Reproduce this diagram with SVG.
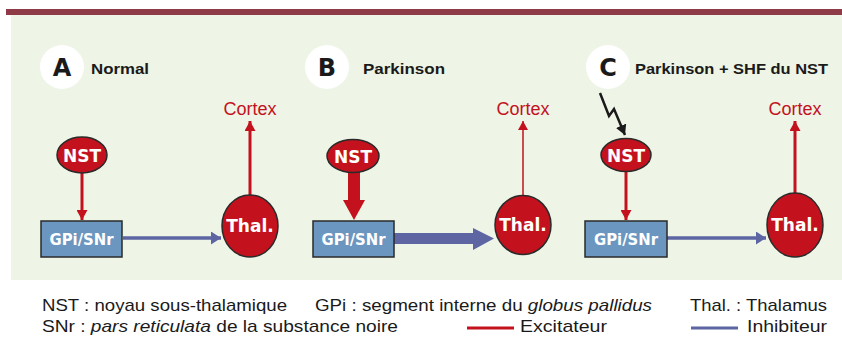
<svg xmlns="http://www.w3.org/2000/svg" width="842" height="344" viewBox="0 0 842 344">
<defs>
<style>
.bg{fill:#eef4e6}
.topbar{fill:#8e3a47}
.badge{fill:#ffffff}
.badgeTxt{font-family:"DejaVu Sans","Liberation Sans",sans-serif;font-weight:bold;font-size:24px;fill:#1a1a1a;text-anchor:middle}
.title{font-family:"Liberation Sans","DejaVu Sans",sans-serif;font-weight:bold;font-size:15.5px;fill:#1a1a1a}
.red{fill:#c3121d;stroke:#2a2a2a;stroke-width:1.5}
.box{fill:#6b96c0;stroke:#2a2a2a;stroke-width:1.5}
.nodeTxt{font-family:"DejaVu Sans","Liberation Sans",sans-serif;font-weight:bold;fill:#ffffff;text-anchor:middle}
.cortex{font-family:"Liberation Sans","DejaVu Sans",sans-serif;font-size:18px;fill:#c3121d;text-anchor:middle}
.exc{stroke:#c3121d;fill:none}
.inh{stroke:#5d65a2;fill:none}
.legend{font-family:"Liberation Sans","DejaVu Sans",sans-serif;font-size:17px;fill:#1a1a1a}
</style>
<marker id="hRed" markerUnits="userSpaceOnUse" markerWidth="11" markerHeight="11" refX="10" refY="5.5" orient="auto">
<path d="M0,0 L10,5.5 L0,11 z" fill="#c3121d"/>
</marker>
<marker id="hRedS" markerUnits="userSpaceOnUse" markerWidth="10" markerHeight="10" refX="9" refY="5" orient="auto">
<path d="M0,0 L9,5 L0,10 z" fill="#c3121d"/>
</marker>
<marker id="hBlue" markerUnits="userSpaceOnUse" markerWidth="11" markerHeight="13" refX="10" refY="6.5" orient="auto">
<path d="M0,0 L10,6.5 L0,13 z" fill="#5d65a2"/>
</marker>
<marker id="hBlack" markerUnits="userSpaceOnUse" markerWidth="11" markerHeight="11" refX="10" refY="5.5" orient="auto">
<path d="M0,0 L10,5.5 L0,11 z" fill="#1a1a1a"/>
</marker>
</defs>

<rect x="6" y="9" width="836" height="6" class="topbar"/>
<rect x="11" y="15" width="831" height="265" class="bg"/>

<!-- Panel titles -->
<g id="titleA">
<circle cx="62" cy="67" r="22" class="badge"/>
<text x="62" y="76" class="badgeTxt">A</text>
<text x="91" y="74" class="title" textLength="58" lengthAdjust="spacingAndGlyphs">Normal</text>
</g>
<g id="titleB">
<circle cx="327" cy="67" r="22" class="badge"/>
<text x="327" y="76" class="badgeTxt">B</text>
<text x="363" y="74" class="title" textLength="82" lengthAdjust="spacingAndGlyphs">Parkinson</text>
</g>
<g id="titleC">
<circle cx="608" cy="67" r="22" class="badge"/>
<text x="608" y="76" class="badgeTxt">C</text>
<text x="635" y="74" class="title" textLength="193" lengthAdjust="spacingAndGlyphs">Parkinson + SHF du NST</text>
</g>

<!-- Connectors -->
<g id="connectors">
<!-- A -->
<line x1="82" y1="173" x2="82" y2="220" class="exc" stroke-width="3" marker-end="url(#hRed)"/>
<line x1="123" y1="238" x2="221" y2="238" class="inh" stroke-width="3.5" marker-end="url(#hBlue)"/>
<line x1="250" y1="195" x2="250" y2="121" class="exc" stroke-width="3" marker-end="url(#hRed)"/>
<!-- B -->
<polygon points="348,172 360,172 360,200 365,200 354,220 343,200 348,200" fill="#c3121d"/>
<polygon points="394,233 473,233 473,228 494,238.5 473,250 473,244 394,244" fill="#5d65a2"/>
<line x1="523" y1="196" x2="523" y2="121" class="exc" stroke-width="1.5" marker-end="url(#hRedS)"/>
<!-- C -->
<polyline points="600,93 609,116 614,109 625,135" fill="none" stroke="#1a1a1a" stroke-width="2.5" marker-end="url(#hBlack)"/>
<line x1="626" y1="172" x2="626" y2="220" class="exc" stroke-width="3" marker-end="url(#hRed)"/>
<line x1="667" y1="238" x2="766" y2="238" class="inh" stroke-width="3.5" marker-end="url(#hBlue)"/>
<line x1="795" y1="193" x2="795" y2="121" class="exc" stroke-width="3" marker-end="url(#hRed)"/>
</g>

<!-- Panel A nodes -->
<g id="cortexA"><text x="250" y="115" class="cortex">Cortex</text></g>
<g id="nstA">
<ellipse cx="82" cy="155" rx="25" ry="18" class="red"/>
<text x="82" y="161.5" class="nodeTxt" font-size="17">NST</text>
</g>
<g id="gpiA">
<rect x="41" y="221" width="81" height="36" class="box"/>
<text x="81.5" y="245" class="nodeTxt" font-size="16" textLength="64" lengthAdjust="spacingAndGlyphs">GPi/SNr</text>
</g>
<g id="thalA">
<ellipse cx="250" cy="226" rx="28" ry="31" class="red"/>
<text x="250" y="232" class="nodeTxt" font-size="17">Thal.</text>
</g>

<!-- Panel B nodes -->
<g id="cortexB"><text x="523" y="115" class="cortex">Cortex</text></g>
<g id="nstB">
<ellipse cx="353" cy="156" rx="26" ry="16.5" class="red"/>
<text x="353" y="162.5" class="nodeTxt" font-size="17">NST</text>
</g>
<g id="gpiB">
<rect x="313" y="221" width="81" height="36" class="box"/>
<text x="353.5" y="245" class="nodeTxt" font-size="16" textLength="64" lengthAdjust="spacingAndGlyphs">GPi/SNr</text>
</g>
<g id="thalB">
<ellipse cx="523" cy="225" rx="28" ry="29.5" class="red"/>
<text x="523" y="231" class="nodeTxt" font-size="17">Thal.</text>
</g>

<!-- Panel C nodes -->
<g id="cortexC"><text x="795" y="115" class="cortex">Cortex</text></g>
<g id="nstC">
<ellipse cx="626" cy="155" rx="25" ry="16.5" class="red"/>
<text x="626" y="161.5" class="nodeTxt" font-size="17">NST</text>
</g>
<g id="gpiC">
<rect x="585" y="221" width="82" height="36" class="box"/>
<text x="626" y="245" class="nodeTxt" font-size="16" textLength="64" lengthAdjust="spacingAndGlyphs">GPi/SNr</text>
</g>
<g id="thalC">
<ellipse cx="795" cy="225" rx="28" ry="32" class="red"/>
<text x="795" y="231" class="nodeTxt" font-size="17">Thal.</text>
</g>

<!-- Legend -->
<g id="legend">
<text x="42" y="311" class="legend" textLength="245" lengthAdjust="spacingAndGlyphs">NST : noyau sous-thalamique</text>
<text x="315" y="311" class="legend" textLength="337" lengthAdjust="spacingAndGlyphs">GPi : segment interne du <tspan font-style="italic">globus pallidus</tspan></text>
<text x="690" y="311" class="legend" textLength="137" lengthAdjust="spacingAndGlyphs">Thal. : Thalamus</text>
<text x="42" y="332" class="legend" textLength="356" lengthAdjust="spacingAndGlyphs">SNr : <tspan font-style="italic">pars reticulata</tspan> de la substance noire</text>
<line x1="467" y1="328" x2="514" y2="328" class="exc" stroke-width="3"/>
<text x="520" y="332" class="legend" textLength="87" lengthAdjust="spacingAndGlyphs">Excitateur</text>
<line x1="691" y1="328" x2="738" y2="328" class="inh" stroke-width="3"/>
<text x="747" y="332" class="legend" textLength="80" lengthAdjust="spacingAndGlyphs">Inhibiteur</text>
</g>
</svg>
